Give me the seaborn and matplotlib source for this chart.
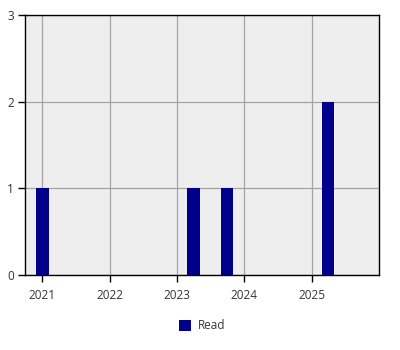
import matplotlib
matplotlib.use("Agg")
import matplotlib.pyplot as plt
import matplotlib.dates as mdates
import numpy as np
import pandas as pd
import seaborn as sns

# Quarterly counts of books read
quarters = [
    "2021-01-01", "2021-04-01", "2021-07-01", "2021-10-01",
    "2022-01-01", "2022-04-01", "2022-07-01", "2022-10-01",
    "2023-01-01", "2023-04-01", "2023-07-01", "2023-10-01",
    "2024-01-01", "2024-04-01", "2024-07-01", "2024-10-01",
    "2025-01-01", "2025-04-01", "2025-07-01", "2025-10-01",
]
read_counts = [
    1, 0, 0, 0,
    0, 0, 0, 0,
    0, 1, 0, 1,
    0, 0, 0, 0,
    0, 2, 0, 0,
]
series_name = "Read"
year_ticks = ["2021-01-01", "2022-01-01", "2023-01-01", "2024-01-01", "2025-01-01"]
y_ticks = [0, 1, 2, 3]

df = pd.DataFrame({
    "date": mdates.date2num(pd.to_datetime(quarters)),
    "count": read_counts,
    "series": [series_name] * len(quarters),
})

sns.set_theme(style="white")
plt.rcParams["font.family"] = ["Open Sans", "DejaVu Sans"]

fig = plt.figure(figsize=(4, 3.5), dpi=100)
ax = fig.add_axes([25 / 400, 1 - 275 / 350, (379 - 25) / 400, (275 - 15) / 350])
ax.set_facecolor("#EEEEEE")

sns.barplot(data=df, x="date", y="count", hue="series",
            palette={series_name: "#00008B"}, native_scale=True,
            width=0.75, linewidth=0, saturation=1, ax=ax, legend=True)

ax.set_xlim(mdates.date2num(pd.Timestamp("2020-09-28")),
            mdates.date2num(pd.Timestamp("2026-01-02")))
ax.set_ylim(0, 3)
ax.set_xticks(mdates.date2num(pd.to_datetime(year_ticks)))
ax.xaxis.set_major_formatter(mdates.DateFormatter("%Y"))
ax.set_yticks(y_ticks)
ax.set_xlabel("")
ax.set_ylabel("")

ax.grid(True, color="#A4A4A4", linewidth=0.9)
ax.set_axisbelow(True)
for s in ax.spines.values():
    s.set_color("black")
    s.set_linewidth(1.0)
    s.set_visible(True)

ax.tick_params(axis="both", which="major", direction="out", length=5,
               width=1.0, color="black", labelsize=8.5, labelcolor="#333333",
               bottom=True, left=True, pad=3)
ax.tick_params(axis="x", pad=5)

sns.move_legend(ax, "center", bbox_to_anchor=(0.5, -0.196), frameon=False,
                title=None, fontsize=8.5, handlelength=1.0, handleheight=1.0,
                handletextpad=0.6)
for t in ax.get_legend().get_texts():
    t.set_color("#333333")

fig.savefig("out.png", dpi=100)
